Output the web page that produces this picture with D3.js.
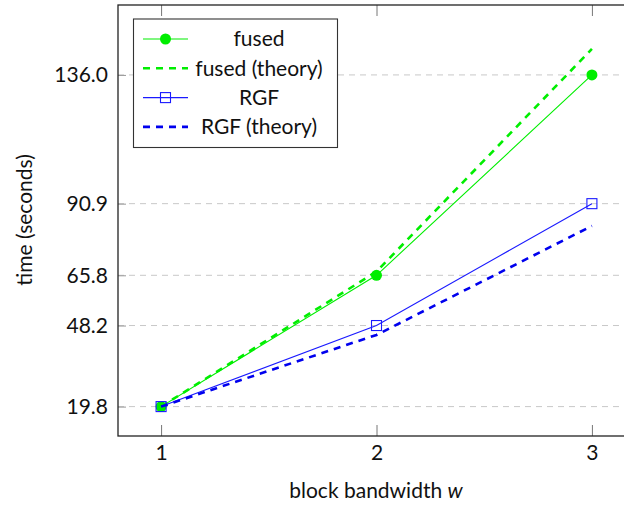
<!DOCTYPE html>
<html><head><meta charset="utf-8">
<script src="https://cdn.jsdelivr.net/npm/d3@7"></script>
<style>body{margin:0;background:#fff;}svg{display:block;}text{font-family:Lato,"Noto Sans",sans-serif;fill:#111;}</style>
</head><body>
<svg id="c" width="624" height="505"></svg>
<script>
const categories = [1, 2, 3];
const fused = [19.8, 65.8, 136.0];
const fusedTheory = [19.8, 67.1, 145.1];
const rgf = [19.8, 48.2, 90.9];
const rgfTheory = [19.8, 44.9, 83.1];
const yTicks = [19.8, 48.2, 65.8, 90.9, 136.0];
const xTicks = [1, 2, 3];
const legendLabels = ["fused", "fused (theory)", "RGF", "RGF (theory)"];

const svg = d3.select("#c");
const L = 118, R = 635, T = 5, B = 436;
const FS = 21;
const x = d3.scaleLinear().domain([0.8, 3.2]).range([L, R]);
const y = d3.scaleLinear().domain([9.5, 160.5]).range([B, T]);

// grid
svg.append("g").selectAll("line").data(yTicks).join("line")
  .attr("x1", L).attr("x2", R).attr("y1", d => y(d)).attr("y2", d => y(d))
  .attr("stroke", "#c8c8c8").attr("stroke-width", 1).attr("stroke-dasharray", "6,5");

// axes with inner ticks
const gx = svg.append("g").attr("transform", `translate(0,${B})`)
  .call(d3.axisBottom(x).tickValues(xTicks).tickFormat(d3.format("d")).tickSize(-11).tickPadding(9));
const gxt = svg.append("g").attr("transform", `translate(0,${T})`)
  .call(d3.axisTop(x).tickValues(xTicks).tickFormat("").tickSize(-11));
const gy = svg.append("g").attr("transform", `translate(${L},0)`)
  .call(d3.axisLeft(y).tickValues(yTicks).tickFormat(d3.format(".1f")).tickSize(-8).tickPadding(10));
[gx, gxt, gy].forEach(g => {
  g.select(".domain").remove();
  g.selectAll(".tick line").attr("stroke", "#777");
  g.selectAll("text").attr("font-size", FS).attr("fill", "#111").style("font-family", "Lato");
});
gy.selectAll(".tick line").attr("stroke", "#999");

// frame
svg.append("rect").attr("x", L).attr("y", T).attr("width", R - L).attr("height", B - T)
  .attr("fill", "none").attr("stroke", "#222").attr("stroke-width", 1.3);

const line = d3.line().x((d, i) => x(categories[i])).y(d => y(d));
const series = [
  {data: fused, color: "#00ee00", width: 1.1, dash: null, marker: "circle"},
  {data: fusedTheory, color: "#00ee00", width: 2.6, dash: "7,6", marker: null},
  {data: rgf, color: "#1a1aff", width: 1.1, dash: null, marker: "square"},
  {data: rgfTheory, color: "#0000ee", width: 2.6, dash: "7,6", marker: null}
];
function drawMarker(g, type, color, cx, cy) {
  if (type === "circle") g.append("circle").attr("cx", cx).attr("cy", cy).attr("r", 5.5).attr("fill", color);
  else if (type === "square") g.append("rect").attr("x", cx - 5).attr("y", cy - 5).attr("width", 10).attr("height", 10)
    .attr("fill", "none").attr("stroke", color).attr("stroke-width", 1.1);
}
series.forEach(s => {
  svg.append("path").datum(s.data).attr("d", line).attr("fill", "none")
    .attr("stroke", s.color).attr("stroke-width", s.width).attr("stroke-dasharray", s.dash);
  if (s.marker) {
    const g = svg.append("g");
    s.data.forEach((v, i) => drawMarker(g, s.marker, s.color, x(categories[i]), y(v)));
  }
});

// legend
const lg = svg.append("g");
lg.append("rect").attr("x", 133.5).attr("y", 19).attr("width", 204).attr("height", 128.5)
  .attr("fill", "#fff").attr("stroke", "#333").attr("stroke-width", 1.1);
series.forEach((s, i) => {
  const cy = 39 + i * 29.3;
  lg.append("line").attr("x1", 143).attr("x2", 188).attr("y1", cy).attr("y2", cy)
    .attr("stroke", s.color).attr("stroke-width", s.width).attr("stroke-dasharray", s.dash);
  if (s.marker) drawMarker(lg, s.marker, s.color, 165.5, cy);
  lg.append("text").attr("x", 259).attr("y", cy).attr("dy", "0.35em").attr("text-anchor", "middle")
    .attr("font-size", FS).text(legendLabels[i]);
});

// axis labels
const xl = svg.append("text").attr("x", 376).attr("y", 498).attr("text-anchor", "middle").attr("font-size", FS);
xl.append("tspan").text("block bandwidth ");
xl.append("tspan").attr("font-style", "italic").text("w");
svg.append("text").attr("transform", "translate(32,220) rotate(-90)").attr("text-anchor", "middle")
  .attr("font-size", FS).text("time (seconds)");
</script>
</body></html>
